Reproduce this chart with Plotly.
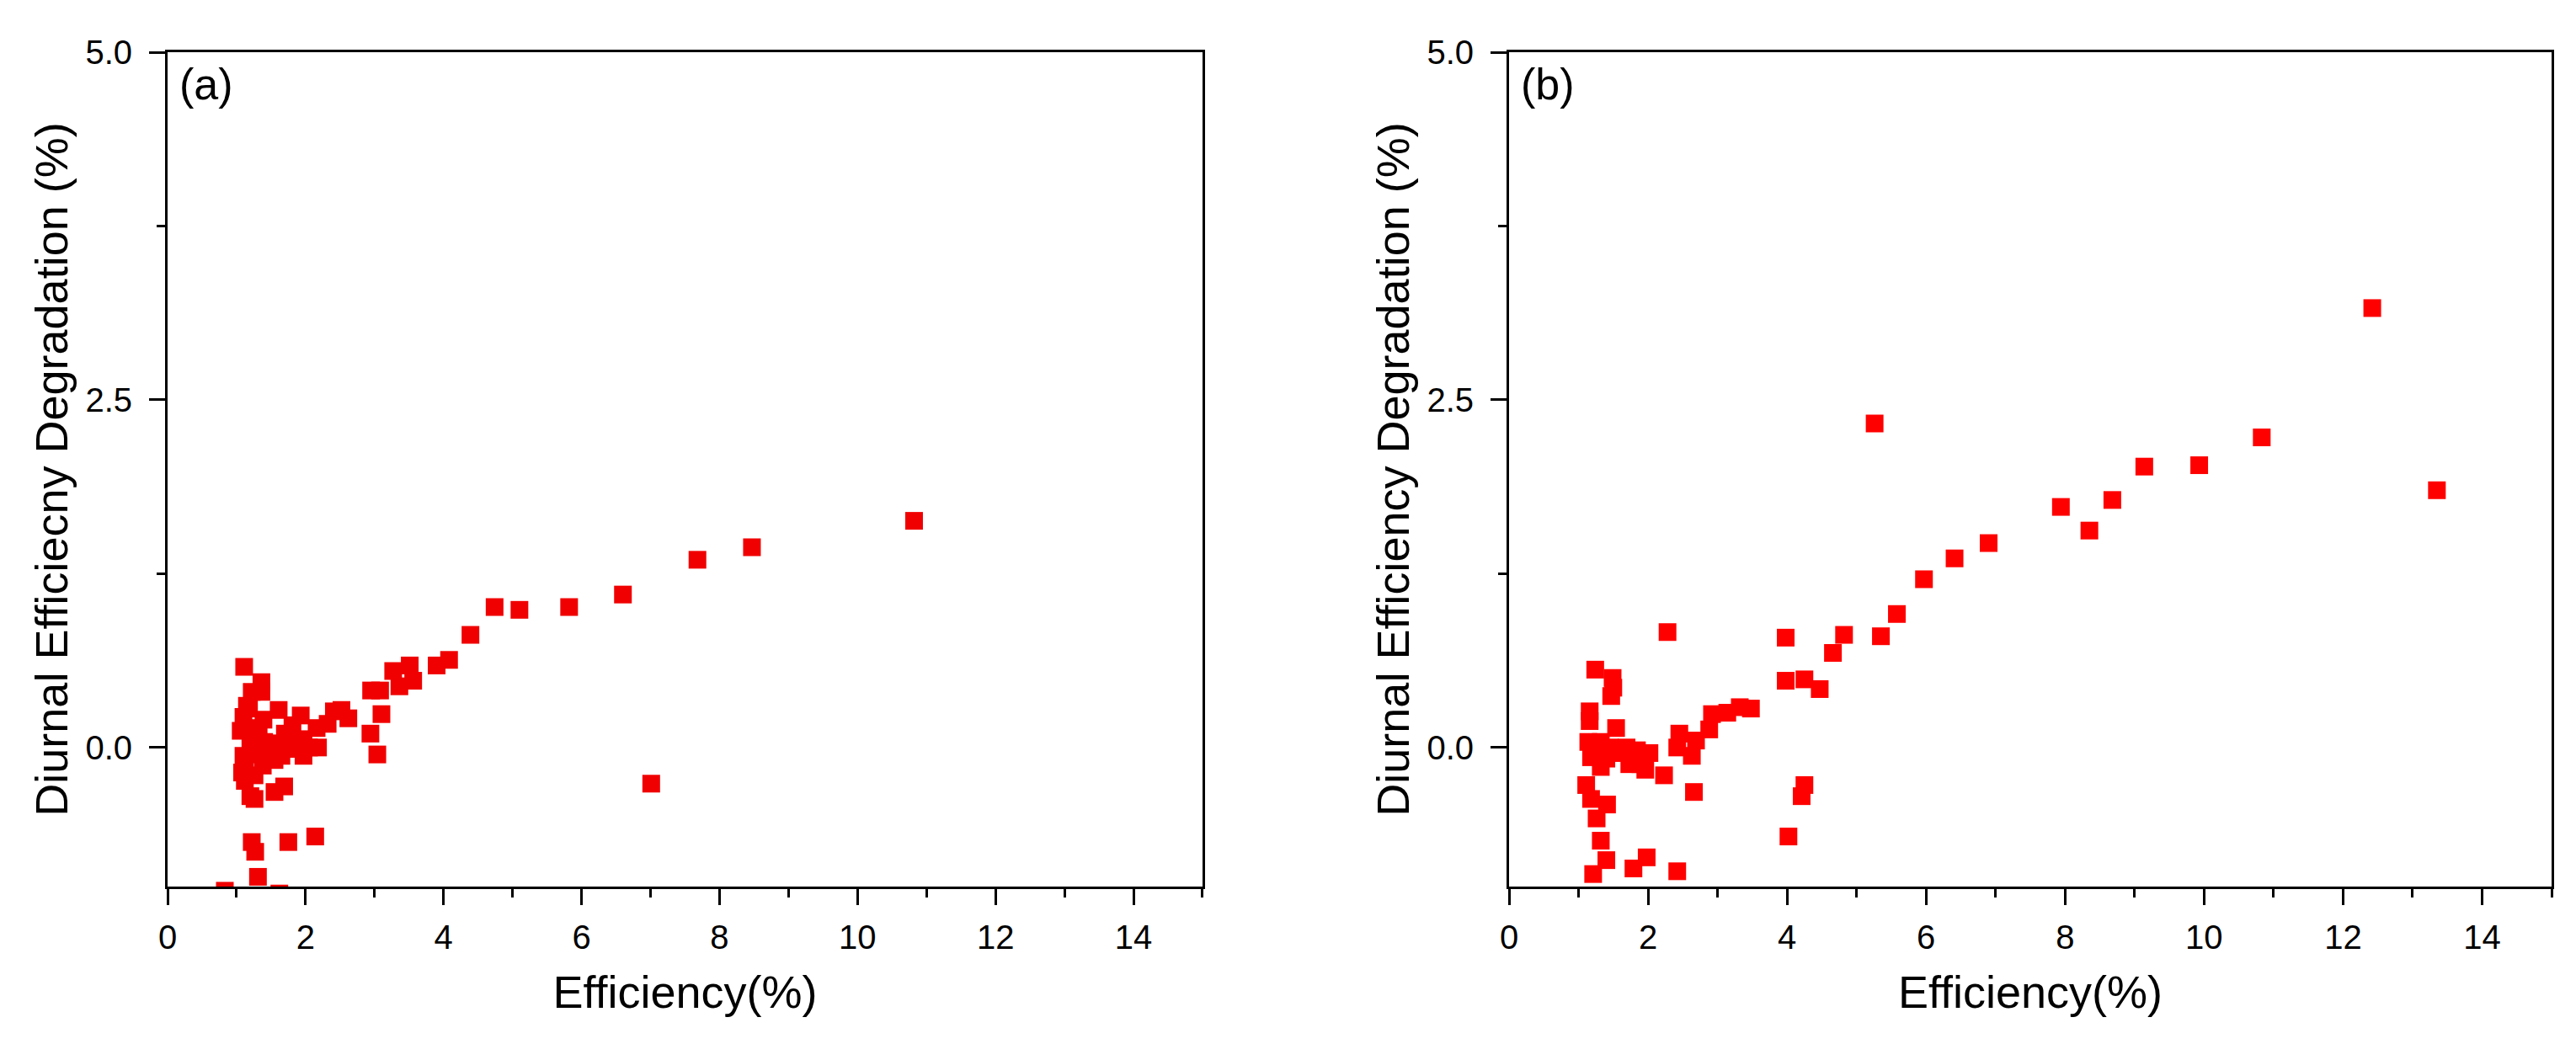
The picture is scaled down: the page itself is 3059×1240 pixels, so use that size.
import plotly.graph_objects as go

# Panel (a)
eff_a = [1.11, 1.36, 1.36, 1.22, 1.18, 1.10, 1.06, 1.61, 1.93, 1.81, 1.32, 2.16, 2.32, 2.41, 2.52,
         2.62, 2.95, 3.08, 3.27, 3.51, 3.56, 3.36, 3.90, 4.08, 4.39, 4.74, 5.10, 5.82, 6.60, 7.68,
         8.47, 10.82, 7.01, 3.10, 2.94, 3.04, 1.61, 1.77, 1.97, 2.18, 1.97, 1.55, 1.38, 1.12, 1.20,
         1.10, 1.55, 1.69, 1.22, 1.27, 1.75, 2.14, 1.31, 0.83, 1.62, 1.20, 1.12, 1.39, 1.26, 1.26,
         1.40, 1.65, 1.15, 1.25, 1.08, 1.30, 1.45, 2.05, 1.85, 1.70]
deg_a = [0.58, 0.47, 0.40, 0.40, 0.28, 0.22, 0.12, 0.27, 0.23, 0.16, 0.14, 0.14, 0.17, 0.26, 0.27,
         0.21, 0.41, 0.41, 0.55, 0.59, 0.48, 0.44, 0.59, 0.63, 0.81, 1.01, 0.99, 1.01, 1.10, 1.35,
         1.44, 1.63, -0.26, 0.24, 0.10, -0.05, 0.03, -0.01, -0.06, 0.00, 0.06, -0.09, -0.13, -0.24, -0.35,
         -0.06, -0.32, -0.28, -0.68, -0.75, -0.68, -0.64, -0.93, -1.03, -1.05, 0.04, -0.12, 0.20, -0.20, -0.37,
         0.04, -0.06, 0.30, 0.10, -0.18, -0.05, -0.02, 0.00, 0.05, 0.10]

# Panel (b)
eff_b = [1.24, 1.49, 1.50, 1.47, 1.16, 1.16, 1.54, 1.14, 1.32, 1.18, 1.45, 1.32, 1.65, 1.84, 2.02,
         1.96, 1.73, 2.23, 2.45, 2.42, 2.69, 2.63, 2.88, 2.92, 3.14, 3.32, 3.48, 2.66, 1.11, 1.18,
         1.41, 1.26, 1.32, 1.40, 1.21, 1.79, 1.98, 2.42, 3.98, 4.25, 4.47, 4.66, 3.98, 4.82, 5.35,
         5.58, 5.97, 6.41, 6.90, 7.94, 8.35, 8.68, 9.14, 9.93, 10.83, 12.42, 13.35, 5.26, 4.25, 4.21,
         4.02, 1.40, 1.69, 1.89, 2.28]
deg_b = [0.56, 0.50, 0.43, 0.37, 0.26, 0.19, 0.14, 0.04, 0.04, -0.07, 0.00, -0.14, -0.04, -0.02, -0.04,
         -0.16, -0.12, -0.20, 0.10, 0.00, 0.05, -0.06, 0.13, 0.24, 0.25, 0.29, 0.28, -0.32, -0.27, -0.37,
         -0.41, -0.51, -0.67, -0.81, -0.91, -0.87, -0.79, -0.89, 0.48, 0.49, 0.42, 0.68, 0.79, 0.81, 0.80,
         0.96, 1.21, 1.36, 1.47, 1.73, 1.56, 1.78, 2.02, 2.03, 2.23, 3.16, 1.85, 2.33, -0.27, -0.35,
         -0.64, -0.08, 0.00, -0.12, 0.83]

x_ticks = [0, 2, 4, 6, 8, 10, 12, 14]
y_ticks = [0.0, 2.5, 5.0]

FONT = "Arial, Liberation Sans, sans-serif"

fig = go.Figure()
fig.add_trace(go.Scatter(x=eff_a, y=deg_a, mode="markers", xaxis="x", yaxis="y",
                         marker=dict(symbol="square", size=21, color="#F00000", line=dict(width=0)),
                         showlegend=False, cliponaxis=True))
fig.add_trace(go.Scatter(x=eff_b, y=deg_b, mode="markers", xaxis="x2", yaxis="y2",
                         marker=dict(symbol="square", size=21, color="#FF0000", line=dict(width=0)),
                         showlegend=False, cliponaxis=True))

def xax(domain, anchor):
    return dict(domain=domain, anchor=anchor, range=[0, 15], tickmode="array", tickvals=x_ticks,
                ticktext=[str(v) for v in x_ticks],
                ticks="outside", ticklen=19, tickwidth=3, tickcolor="black",
                minor=dict(ticks="outside", ticklen=10, tickwidth=3, tickcolor="black", dtick=1, tick0=0),
                showline=True, linewidth=3, linecolor="black", mirror=True,
                showgrid=False, zeroline=False, ticklabelstandoff=4,
                tickfont=dict(family=FONT, size=40, color="black"),
                title=dict(text="Efficiency(%)", font=dict(family=FONT, size=54, color="black"), standoff=26))

def yax(domain, anchor, title):
    return dict(domain=domain, anchor=anchor, range=[-1, 5], tickmode="array", tickvals=y_ticks,
                ticktext=[f"{v:.1f}" for v in y_ticks],
                ticks="outside", ticklen=19, tickwidth=3, tickcolor="black",
                minor=dict(ticks="outside", ticklen=10, tickwidth=3, tickcolor="black", dtick=1.25, tick0=0),
                showline=True, linewidth=3, linecolor="black", mirror=True,
                showgrid=False, zeroline=False, ticklabelstandoff=12,
                tickfont=dict(family=FONT, size=40, color="black"),
                title=dict(text=title, font=dict(family=FONT, size=54, color="black"), standoff=4))

fig.update_layout(
    width=3059, height=1240,
    margin=dict(l=191, r=37, t=54, b=195),
    paper_bgcolor="white", plot_bgcolor="white",
    xaxis=xax([0, 0.4341], "y"),
    yaxis=yax([0, 1], "x", "Diurnal Efficiecny Degradation (%)"),
    xaxis2=xax([0.5627, 1.0], "y2"),
    yaxis2=yax([0, 1], "x2", "Diurnal Efficiency Degradation (%)"),
    annotations=[
        dict(text="(a)", xref="x domain", yref="y domain", x=0.01, y=0.962, xanchor="left", yanchor="middle",
             showarrow=False, font=dict(family=FONT, size=52, color="black")),
        dict(text="(b)", xref="x2 domain", yref="y2 domain", x=0.01, y=0.962, xanchor="left", yanchor="middle",
             showarrow=False, font=dict(family=FONT, size=52, color="black")),
    ],
)

fig.write_html("out.html")
